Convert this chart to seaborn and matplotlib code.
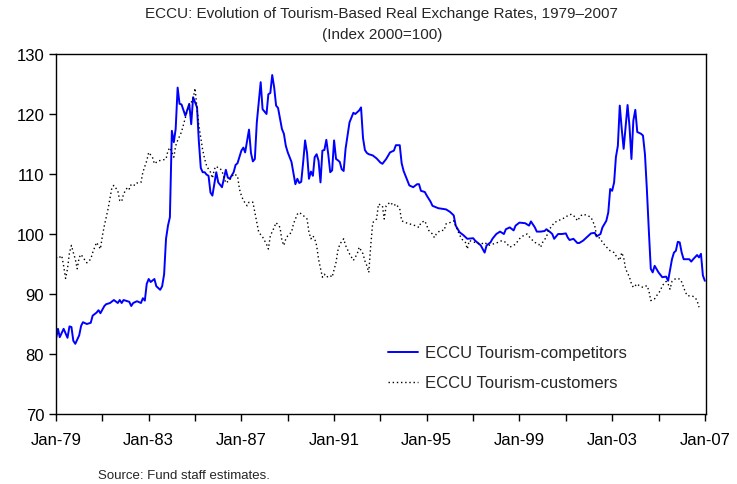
import pandas as pd
import numpy as np
import matplotlib
matplotlib.use("Agg")
import matplotlib.pyplot as plt
import seaborn as sns

# months counted from Jan-1979, index values
comp_month = [0, 1, 2, 4, 6, 7, 8, 9, 10, 12, 13, 14, 16, 18, 19, 21, 22, 23, 25, 26,
              28, 30, 32, 33, 34, 35, 38, 39, 40, 42, 44, 45, 46, 47, 48, 49, 51, 52, 54, 55,
              56, 57, 58, 59, 60, 61, 62, 63, 64, 65, 67, 69, 70, 71, 73, 74, 75, 76, 77, 78,
              79, 80, 81, 83, 84, 86, 88, 89, 90, 92, 93, 94, 96, 97, 98, 100, 101, 102, 103, 104,
              106, 107, 109, 110, 111, 112, 113, 114, 115, 117, 118, 119, 120, 122, 124, 125, 126, 127, 128, 129,
              130, 131, 132, 133, 134, 135, 136, 137, 138, 139, 140, 141, 142, 143, 144, 145, 146, 147, 148, 149,
              150, 152, 153, 154, 155, 157, 158, 159, 160, 161, 162, 164, 166, 168, 169, 171, 173, 175, 176, 178,
              179, 180, 182, 183, 185, 187, 188, 189, 191, 192, 194, 195, 198, 200, 202, 204, 206, 207, 209, 211,
              213, 216, 217, 220, 222, 223, 225, 226, 228, 230, 232, 233, 235, 237, 238, 240, 243, 245, 246, 248,
              249, 251, 253, 254, 256, 257, 258, 260, 262, 264, 265, 266, 268, 270, 271, 273, 275, 277, 279, 280,
              282, 283, 285, 286, 287, 288, 289, 290, 291, 292, 293, 294, 296, 297, 298, 299, 300, 301, 303, 304,
              305, 306, 307, 308, 309, 310, 312, 314, 316, 317, 319, 320, 321, 322, 323, 324, 325, 328, 329, 330,
              332, 333, 334, 335, 336]
comp_index = [82.5, 84.2, 82.8, 84.2, 82.7, 84.6, 84.5, 82.2, 81.7, 83.1, 84.7, 85.3, 85.0, 85.2, 86.4, 86.9, 87.3, 86.8, 88.0, 88.3,
              88.5, 89.0, 88.5, 89.0, 88.5, 89.0, 88.7, 88.0, 88.5, 88.8, 88.5, 89.3, 88.9, 91.7, 92.5, 92.0, 92.5, 91.3, 90.7, 91.3,
              93.3, 99.2, 101.4, 102.8, 117.2, 115.3, 117.5, 124.4, 121.7, 121.6, 119.7, 121.7, 118.3, 122.8, 121.1, 115.5, 111.0, 110.3, 110.3, 109.9,
              109.7, 106.9, 106.4, 110.3, 108.6, 107.8, 110.7, 109.4, 109.2, 110.3, 111.5, 111.8, 113.9, 114.4, 113.6, 117.4, 113.5, 112.1, 112.5, 118.6,
              125.3, 120.8, 120.0, 123.3, 123.5, 126.5, 124.4, 121.4, 121.0, 117.5, 116.7, 114.7, 113.6, 112.0, 108.3, 109.2, 108.5, 108.7, 112.0, 115.6,
              113.5, 109.2, 110.4, 109.7, 112.8, 113.3, 112.2, 108.6, 113.9, 114.0, 115.7, 113.3, 110.3, 110.6, 115.6, 112.5, 112.3, 112.0, 110.8, 110.5,
              114.2, 118.6, 119.4, 120.2, 120.0, 120.6, 121.1, 116.0, 114.0, 113.5, 113.3, 113.1, 112.6, 111.9, 111.7, 112.5, 113.6, 113.9, 114.8, 114.8,
              111.8, 110.5, 108.9, 108.1, 107.8, 108.3, 108.3, 107.2, 107.0, 106.4, 105.4, 104.7, 104.3, 104.2, 104.1, 103.7, 103.1, 101.4, 100.3, 99.8,
              99.2, 99.3, 98.9, 98.1, 96.9, 98.1, 98.6, 99.2, 100.0, 100.4, 100.0, 100.8, 101.1, 100.6, 101.4, 101.9, 101.8, 101.4, 102.1, 101.1,
              100.4, 100.4, 100.5, 100.8, 100.3, 100.0, 99.2, 100.0, 100.0, 100.1, 99.4, 99.0, 99.2, 98.5, 98.5, 98.9, 99.5, 100.1, 100.2, 99.6,
              100.0, 101.1, 102.2, 103.6, 107.5, 107.2, 108.6, 112.8, 114.7, 121.4, 117.5, 114.2, 121.5, 118.0, 112.5, 118.9, 120.7, 117.0, 116.7, 116.4,
              113.3, 107.5, 100.6, 94.2, 93.6, 94.7, 93.6, 92.8, 92.9, 92.2, 95.8, 96.9, 97.2, 98.7, 98.6, 96.9, 95.8, 95.8, 95.4, 95.8,
              96.5, 96.1, 96.7, 93.1, 92.2]

cust_month = [0, 1, 3, 4, 5, 6, 7, 8, 9, 10, 11, 12, 13, 14, 16, 18, 19, 21, 23, 24,
              25, 27, 29, 30, 32, 33, 34, 35, 37, 38, 39, 41, 42, 44, 45, 47, 48, 50, 51, 53,
              55, 57, 58, 59, 61, 62, 63, 65, 67, 68, 69, 71, 72, 73, 74, 75, 76, 77, 78, 79,
              80, 81, 82, 83, 84, 85, 86, 88, 90, 92, 94, 95, 96, 97, 99, 100, 102, 103, 104, 105,
              107, 109, 110, 111, 113, 114, 116, 117, 118, 119, 120, 122, 123, 125, 126, 128, 130, 131, 132, 133,
              134, 135, 136, 138, 139, 140, 142, 143, 145, 146, 147, 149, 150, 152, 154, 156, 157, 159, 160, 161,
              162, 163, 164, 166, 167, 169, 170, 171, 173, 175, 176, 178, 179, 181, 183, 186, 188, 189, 191, 193,
              195, 196, 197, 199, 201, 202, 204, 206, 208, 210, 212, 213, 214, 217, 220, 222, 224, 226, 228, 231,
              233, 235, 238, 240, 242, 244, 246, 248, 250, 251, 252, 254, 255, 257, 258, 260, 262, 264, 265, 267,
              269, 270, 272, 273, 275, 277, 279, 280, 282, 283, 286, 287, 289, 290, 292, 293, 294, 295, 297, 298,
              299, 301, 302, 304, 306, 307, 308, 310, 311, 313, 314, 316, 317, 318, 319, 321, 323, 324, 326, 327,
              329, 330, 331, 332, 333]
cust_index = [96.1, 95.9, 96.4, 94.7, 92.6, 94.2, 96.9, 98.1, 96.9, 95.8, 94.2, 96.1, 96.6, 96.1, 95.2, 95.8, 96.9, 98.6, 97.5, 99.7,
              101.4, 104.2, 107.8, 108.1, 107.2, 105.6, 105.4, 106.7, 107.8, 107.5, 108.3, 108.1, 108.5, 108.6, 110.3, 112.2, 113.6, 112.8, 111.7, 112.2,
              112.3, 112.5, 113.9, 114.4, 112.8, 114.7, 115.6, 117.0, 119.4, 120.6, 121.4, 122.5, 124.3, 120.8, 118.1, 116.0, 114.0, 112.5, 111.4, 110.8,
              110.3, 109.3, 110.8, 111.3, 111.0, 110.9, 110.5, 108.5, 109.0, 110.0, 109.7, 107.5, 106.4, 105.6, 104.7, 105.3, 105.3, 103.6, 101.9, 100.3,
              99.5, 98.3, 97.5, 99.7, 101.1, 101.9, 101.1, 98.9, 98.1, 99.2, 99.7, 100.3, 101.7, 103.3, 103.6, 103.1, 102.5, 100.3, 99.2, 99.7,
              99.2, 98.1, 95.8, 92.8, 93.3, 92.8, 93.1, 92.8, 95.3, 97.2, 98.3, 99.2, 98.1, 96.7, 95.6, 96.7, 97.8, 96.7, 95.5, 94.7,
              93.6, 98.1, 101.9, 102.5, 105.0, 104.7, 102.5, 104.7, 105.3, 104.7, 105.0, 104.2, 102.2, 101.9, 101.7, 101.4, 101.1, 101.9, 102.2, 100.6,
              100.0, 99.4, 100.0, 100.6, 100.6, 101.7, 101.9, 102.2, 100.6, 99.2, 98.6, 97.5, 98.9, 98.6, 98.3, 98.6, 98.1, 98.3, 98.5, 98.9,
              98.6, 97.8, 98.3, 99.2, 99.7, 100.0, 99.2, 98.6, 98.3, 97.8, 98.6, 99.5, 100.6, 101.4, 101.9, 102.2, 102.5, 102.8, 103.1, 103.3,
              102.8, 102.2, 103.1, 103.3, 103.1, 102.8, 101.4, 99.7, 99.2, 98.6, 97.5, 97.2, 96.9, 96.4, 95.6, 96.9, 96.1, 94.2, 92.8, 91.7,
              91.1, 91.7, 91.4, 91.1, 91.4, 90.6, 88.9, 89.2, 89.7, 90.6, 91.4, 92.1, 91.7, 90.8, 92.1, 92.6, 92.5, 92.0, 90.3, 89.7,
              89.7, 89.6, 89.4, 88.9, 87.8]

labels = ["ECCU Tourism-competitors", "ECCU Tourism-customers"]
label_years = [1979, 1983, 1987, 1991, 1995, 1999, 2003, 2007]
minor_years = [1981, 1985, 1989, 1993, 1997, 2001, 2005]

months = pd.date_range("1979-01-01", periods=340, freq="MS")
comp = pd.DataFrame({"date": months[comp_month], "index": comp_index})
cust = pd.DataFrame({"date": months[cust_month], "index": cust_index})

sns.set_theme(style="ticks")
plt.rcParams["font.family"] = ["Liberation Sans", "DejaVu Sans"]

fig = plt.figure(figsize=(7.37, 4.85), dpi=100)
ax = fig.add_axes([0.076, 0.1443, 0.882, 0.7423])

sns.lineplot(data=comp, x="date", y="index", ax=ax, color="#0000ff", lw=1.4, label=labels[0])
sns.lineplot(data=cust, x="date", y="index", ax=ax, color="black", lw=1.0,
             linestyle=(0, (1, 2)), label=labels[1])

ax.set_ylim(70, 130)
ax.set_yticks(range(70, 131, 10))
ax.set_xlim(pd.Timestamp("1979-01-01"), pd.Timestamp("2007-01-20"))
major = [pd.Timestamp(y, 1, 1) for y in label_years]
ax.set_xticks(major)
ax.set_xticklabels([d.strftime("%b-%y") for d in major])
ax.set_xticks([pd.Timestamp(y, 1, 1) for y in minor_years], minor=True)
ax.set_xlabel("")
ax.set_ylabel("")
ax.tick_params(axis="both", which="both", direction="out", length=5, width=1,
               color="black", labelsize=12, labelcolor="black")
ax.tick_params(axis="x", pad=8)
for s in ax.spines.values():
    s.set_visible(True)
    s.set_color("black")
    s.set_linewidth(1)

ax.legend(loc="upper left", bbox_to_anchor=(0.488, 0.232), frameon=False, fontsize=12,
          handlelength=1.8, handletextpad=0.4, labelspacing=0.9)

fig.text(0.518, 0.971, "ECCU: Evolution of Tourism-Based Real Exchange Rates, 1979\u20132007",
         ha="center", va="center", fontsize=11)
fig.text(0.518, 0.928, "(Index 2000=100)", ha="center", va="center", fontsize=11)
fig.text(0.133, 0.019, "Source: Fund staff estimates.", ha="left", va="center", fontsize=9.5)

fig.savefig("out.png", dpi=100)
